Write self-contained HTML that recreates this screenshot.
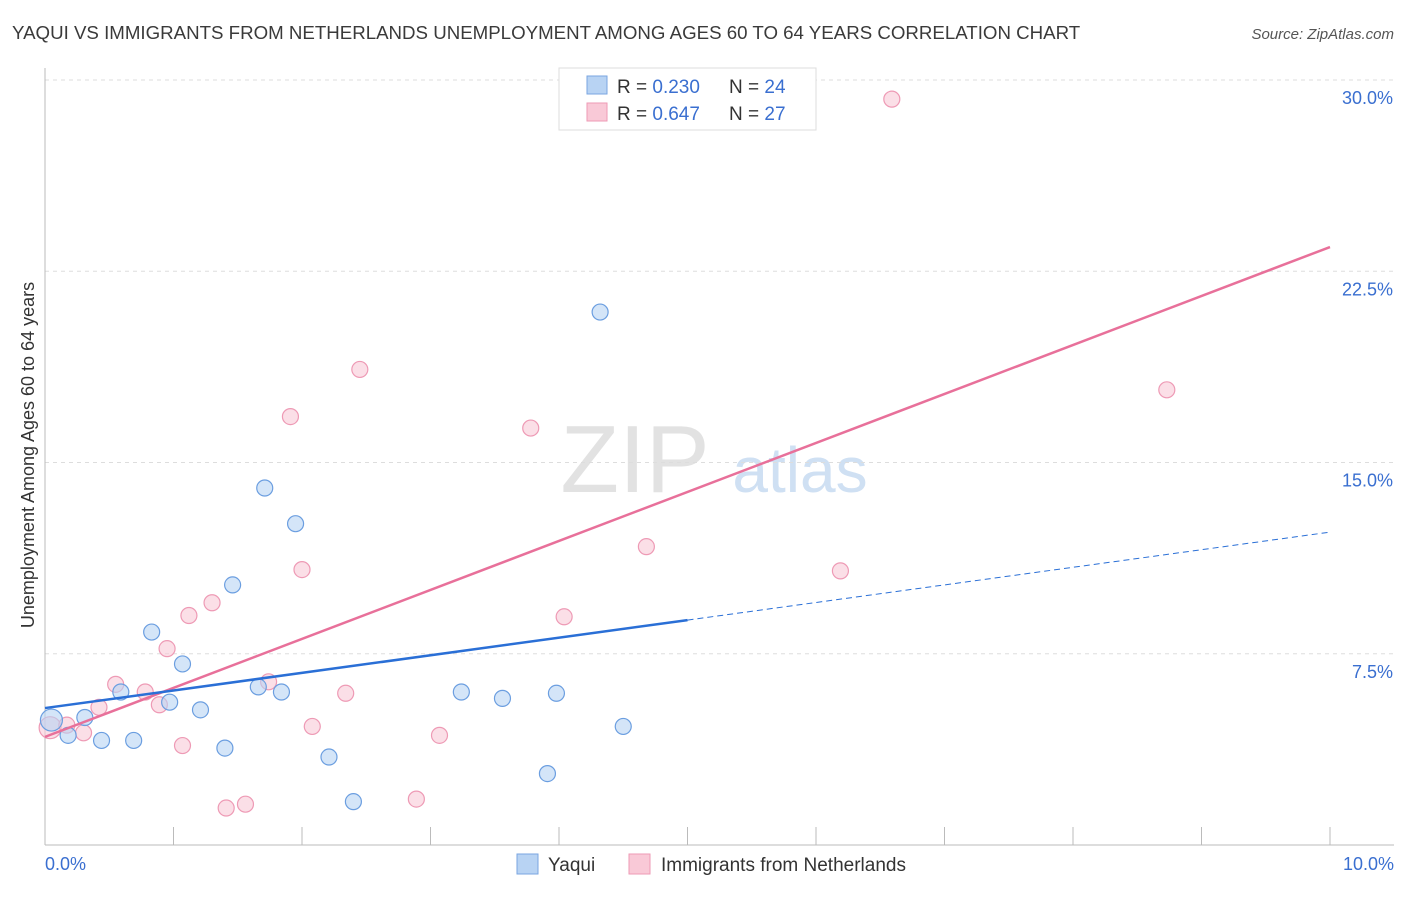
<!DOCTYPE html>
<html><head><meta charset="utf-8"><style>
body{margin:0;background:#fff;font-family:"Liberation Sans",sans-serif;}
svg text{font-family:"Liberation Sans",sans-serif;}
</style></head><body>
<svg width="1406" height="892">
<text x="12" y="39" font-size="18.7" fill="#3a3a3a">YAQUI VS IMMIGRANTS FROM NETHERLANDS UNEMPLOYMENT AMONG AGES 60 TO 64 YEARS CORRELATION CHART</text>
<text x="1394" y="39" font-size="15" fill="#555" text-anchor="end" font-style="italic">Source: ZipAtlas.com</text>
<g><text x="635" y="492" font-size="96" fill="#e2e2e2" text-anchor="middle" font-family="Liberation Serif,serif">ZIP</text><text x="800" y="492" font-size="64" fill="#cfe0f3" text-anchor="middle">atlas</text></g>
<g id="grid"></g>
<g id="axes"></g>
<g id="marks"></g>
<text transform="translate(34,455) rotate(-90)" font-size="18" fill="#333" text-anchor="middle">Unemployment Among Ages 60 to 64 years</text>
<g>
<rect x="559" y="68" width="257" height="62" fill="#fff" stroke="#ddd"/>
<rect x="587" y="76" width="20" height="18" fill="#b8d3f3" stroke="#7aa6e0"/>
<text x="617" y="93" font-size="19" fill="#333">R = <tspan fill="#3a6fd0">0.230</tspan></text>
<text x="729" y="93" font-size="19" fill="#333">N = <tspan fill="#3a6fd0">24</tspan></text>
<rect x="587" y="103" width="20" height="18" fill="#f9c9d7" stroke="#ee9ab5"/>
<text x="617" y="120" font-size="19" fill="#333">R = <tspan fill="#3a6fd0">0.647</tspan></text>
<text x="729" y="120" font-size="19" fill="#333">N = <tspan fill="#3a6fd0">27</tspan></text>
</g>
<g>
<rect x="517" y="854" width="21" height="20" fill="#b8d3f3" stroke="#7aa6e0"/>
<text x="548" y="871" font-size="19" fill="#333">Yaqui</text>
<rect x="629" y="854" width="21" height="20" fill="#f9c9d7" stroke="#ee9ab5"/>
<text x="661" y="871" font-size="19" fill="#333">Immigrants from Netherlands</text>
</g>
</svg>
<script>
const yTicks=[7.5,15,22.5,30];
const yTickLabels=["7.5%","15.0%","22.5%","30.0%"];
const xTickLabels=["0.0%","10.0%"];
const blueX=[0.05,0.18,0.31,0.44,0.69,0.83,0.59,0.97,1.07,1.21,1.40,1.46,1.66,1.71,1.84,1.95,2.21,2.40,3.24,3.56,3.91,3.98,4.32,4.50];
const blueY=[4.9,4.3,5.0,4.1,4.1,8.35,6.0,5.6,7.1,5.3,3.8,10.2,6.2,14.0,6.0,12.6,3.45,1.7,6.0,5.75,2.8,5.95,20.9,4.65];
const pinkX=[0.04,0.17,0.30,0.42,0.55,0.78,0.89,0.95,1.07,1.12,1.30,1.41,1.56,1.74,1.91,2.0,2.08,2.34,2.45,2.89,3.07,3.78,4.04,4.68,6.19,6.59,8.73];
const pinkY=[4.6,4.7,4.4,5.4,6.3,6.0,5.5,7.7,3.9,9.0,9.5,1.45,1.6,6.4,16.8,10.8,4.65,5.95,18.65,1.8,4.3,16.35,8.95,11.7,10.75,29.25,17.85];
const blueTrend=[5.37,12.27];
const pinkTrend=[4.24,23.45];
const blueSolidEnd=5.0;
const X=v=>45+v*128.5, Y=v=>845-v*25.5;
const NS="http://www.w3.org/2000/svg";
function mk(p,t,a){const e=document.createElementNS(NS,t);for(const k in a)e.setAttribute(k,a[k]);document.getElementById(p).appendChild(e);return e;}
yTicks.forEach((t,i)=>{
 const l=mk('grid','line',{x1:45,x2:1394,y1:Y(t),y2:Y(t),stroke:'#ddd','stroke-dasharray':'4,4'});
 
 
 const tx=mk('grid','text',{x:1393,y:Y(t)+24,'font-size':18,fill:'#3a6fd0','text-anchor':'end'});
 tx.textContent=yTickLabels[i];
 
 
});
let a=mk('axes','line',{x1:45,x2:45,y1:68,y2:845,stroke:'#bbb'});


a=mk('axes','line',{x1:45,x2:1394,y1:845,y2:845,stroke:'#bbb'});


for(let i=1;i<=10;i++){const t=mk('axes','line',{x1:X(i),x2:X(i),y1:827,y2:845,stroke:'#bbb'});
 
 }
[[0,'start',45],[10,'end',1394]].forEach((d,i)=>{const t=mk('axes','text',{x:d[2],y:870,'font-size':18,fill:'#3a6fd0','text-anchor':d[1]});t.textContent=xTickLabels[i];
 
 });
function pts(xs,ys,fill,stroke,name){xs.forEach((x,i)=>{const c=mk('marks','circle',{cx:X(x),cy:Y(ys[i]),r:i==0?11:8,fill:fill,'fill-opacity':0.6,stroke:stroke,'stroke-width':1.2});
 
 });}
pts(pinkX,pinkY,'#f9c9d7','#ee9ab5','netherlands-point');
pts(blueX,blueY,'#b8d3f3','#6b9ee0','yaqui-point');
const bv=x=>blueTrend[0]+(blueTrend[1]-blueTrend[0])*x/10, pv=x=>pinkTrend[0]+(pinkTrend[1]-pinkTrend[0])*x/10;
let l=mk('marks','line',{x1:X(0),y1:Y(pv(0)),x2:X(10),y2:Y(pv(10)),stroke:'#e8709a','stroke-width':2.5});


l=mk('marks','line',{x1:X(0),y1:Y(bv(0)),x2:X(blueSolidEnd),y2:Y(bv(blueSolidEnd)),stroke:'#2a6fd6','stroke-width':2.5});


l=mk('marks','line',{x1:X(blueSolidEnd),y1:Y(bv(blueSolidEnd)),x2:X(10),y2:Y(bv(10)),stroke:'#2a6fd6','stroke-width':1,'stroke-dasharray':'6,4'});


</script>
</body></html>
